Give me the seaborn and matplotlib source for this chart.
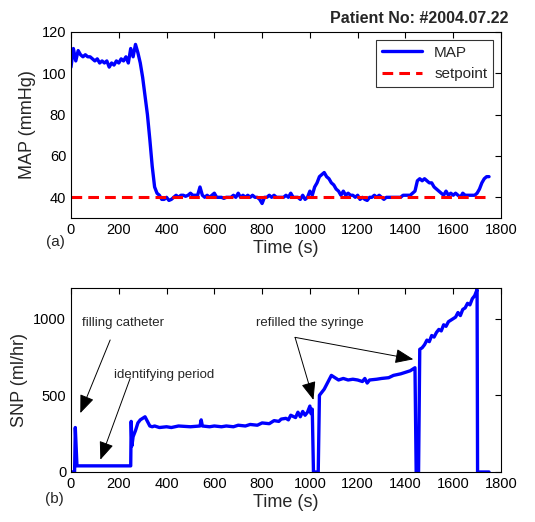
import matplotlib
matplotlib.use('Agg')
import matplotlib.pyplot as plt
import seaborn as sns
import pandas as pd
import numpy as np

# data
map_time = list(range(0, 1760, 10))
map_values = [103, 112, 106, 111, 109, 108, 109, 108, 108, 107,
              106, 107, 105, 106, 105, 106, 103, 105, 104, 106,
              105, 107, 106, 108, 105, 112, 108, 114, 110, 105,
              98, 89, 80, 68, 55, 45, 42, 41, 39, 39,
              40, 38.5, 39, 40, 41, 40, 41, 41, 40.5, 41,
              42, 41, 41, 41, 45, 41, 40, 41, 40, 41,
              42, 40, 40, 40, 39.5, 40, 40, 40, 41, 40,
              42, 40, 41, 40, 41, 40, 41, 40, 40, 39,
              37, 40, 40, 41, 40, 41, 40, 40, 40, 40,
              41, 40, 42, 40, 40, 40, 39, 41, 39, 40,
              43, 41, 45, 47, 50, 51, 52, 50, 49, 47,
              46, 44, 43, 41, 43, 41, 42, 41, 41, 40,
              41, 39, 40, 39, 38.5, 40, 40, 41, 40, 41,
              40, 39, 40, 40, 40, 40, 40, 40, 40, 41,
              41, 41, 41, 42, 43, 48, 49, 48, 49, 48,
              47, 47, 45, 44, 43, 42, 41, 43, 41, 42,
              41, 42, 41, 40, 42, 41, 41, 41, 41, 41,
              42, 44, 47, 49, 50, 50]
setpoint_time = [0, 1750]
setpoint_values = [40, 40]

snp_time = [0, 10, 15, 18, 25, 250, 252, 255, 260, 270, 280, 290, 300, 310,
            320, 330, 340, 350, 370, 400, 420, 450, 500, 540, 545, 550, 580,
            600, 630, 650, 680, 700, 730, 750, 780, 800, 830, 850, 870, 880,
            900, 910, 920, 940, 950, 960, 970, 980, 990, 1000, 1005, 1010,
            1015, 1035, 1040, 1050, 1060, 1070, 1080, 1090, 1100, 1120, 1140,
            1160, 1180, 1200, 1220, 1230, 1240, 1250, 1280, 1300, 1330, 1350,
            1380, 1400, 1420, 1430, 1440, 1445, 1455, 1460, 1470, 1480, 1490,
            1500, 1510, 1520, 1530, 1540, 1550, 1560, 1570, 1580, 1590, 1600,
            1610, 1620, 1630, 1640, 1650, 1660, 1670, 1680, 1690, 1700, 1702,
            1750]
snp_values = [0, 0, 0, 290, 40, 40, 330, 170, 230, 270, 320, 340, 350, 360,
              330, 300, 295, 300, 290, 295, 290, 300, 295, 300, 340, 300, 295,
              300, 295, 300, 295, 305, 300, 310, 305, 320, 315, 335, 330, 345,
              350, 340, 370, 355, 390, 360, 395, 370, 390, 430, 380, 410,
              0, 0, 500, 520, 540, 570, 600, 630, 620, 600, 610,
              600, 605, 600, 590, 610, 580, 600, 605, 610, 615, 630,
              640, 650, 660, 670, 680, 0, 0, 800, 810, 830, 860,
              850, 890, 880, 910, 930, 920, 960, 950, 980, 990, 1000,
              1010, 1040, 1020, 1060, 1070, 1100, 1090, 1130, 1150, 1190, 0,
              0]

df_map = pd.DataFrame({'t': map_time, 'v': map_values})
df_sp = pd.DataFrame({'t': setpoint_time, 'v': setpoint_values})
df_snp = pd.DataFrame({'t': snp_time, 'v': snp_values})

sns.set_style('white')
plt.rcParams['font.family'] = ['Liberation Sans', 'DejaVu Sans']
plt.rcParams['xtick.direction'] = 'in'
plt.rcParams['ytick.direction'] = 'in'

fig = plt.figure(figsize=(5.35, 5.22), dpi=100)
ax1 = fig.add_axes([0.1327, 0.5824, 0.8037, 0.3563])
ax2 = fig.add_axes([0.1327, 0.0958, 0.8037, 0.3525])

# top panel
sns.lineplot(data=df_map, x='t', y='v', ax=ax1, color='#0000ff', lw=2.4, label='MAP')
sns.lineplot(data=df_sp, x='t', y='v', ax=ax1, color='#ff0000', lw=2.2,
             linestyle=(0, (3.5, 2)), label='setpoint')
ax1.set_xlim(0, 1800)
ax1.set_ylim(30, 120)
ax1.set_xticks(range(0, 1801, 200))
ax1.set_yticks([40, 60, 80, 100, 120])
ax1.set_xlabel('Time (s)', fontsize=13, labelpad=2)
ax1.set_ylabel('MAP (mmHg)', fontsize=13, labelpad=4)
leg = ax1.legend(loc='upper right', fontsize=11, frameon=True, fancybox=False,
                 edgecolor='black', handlelength=2.6, borderaxespad=0.5)
leg.get_frame().set_linewidth(0.8)

# bottom panel
sns.lineplot(data=df_snp, x='t', y='v', ax=ax2, color='#0000ff', lw=2.4)
ax2.set_xlim(0, 1800)
ax2.set_ylim(0, 1200)
ax2.set_xticks(range(0, 1801, 200))
ax2.set_yticks([0, 500, 1000])
ax2.set_xlabel('Time (s)', fontsize=13, labelpad=2)
ax2.set_ylabel('SNP (ml/hr)', fontsize=13, labelpad=4)

for ax in (ax1, ax2):
    ax.tick_params(labelsize=10.5, top=True, right=True, length=4, width=0.8, colors='black')
    for s in ax.spines.values():
        s.set_color('black')
        s.set_linewidth(0.8)

arrow = dict(arrowstyle='-|>,head_length=0.7,head_width=0.28', color='black', lw=0.7,
             mutation_scale=16, shrinkA=0, shrinkB=0)
ax2.text(46, 970, 'filling catheter', fontsize=9.5, va='center')
ax2.annotate('', xy=(39, 384), xytext=(164, 861), arrowprops=arrow)
ax2.text(181, 633, 'identifying period', fontsize=9.5, va='center')
ax2.annotate('', xy=(123, 80), xytext=(248, 612), arrowprops=arrow)
ax2.text(775, 970, 'refilled the syringe', fontsize=9.5, va='center')
ax2.annotate('', xy=(1015, 470), xytext=(938, 878), arrowprops=arrow)
ax2.annotate('', xy=(1433, 735), xytext=(938, 878), arrowprops=arrow)

fig.text(0.95, 0.965, 'Patient No: #2004.07.22', fontsize=11.5, fontweight='bold', ha='right', va='center')
fig.text(0.086, 1 - 242 / 522, '(a)', fontsize=11, va='center')
fig.text(0.084, 1 - 499 / 522, '(b)', fontsize=11, va='center')

fig.savefig('out.png', dpi=100)
